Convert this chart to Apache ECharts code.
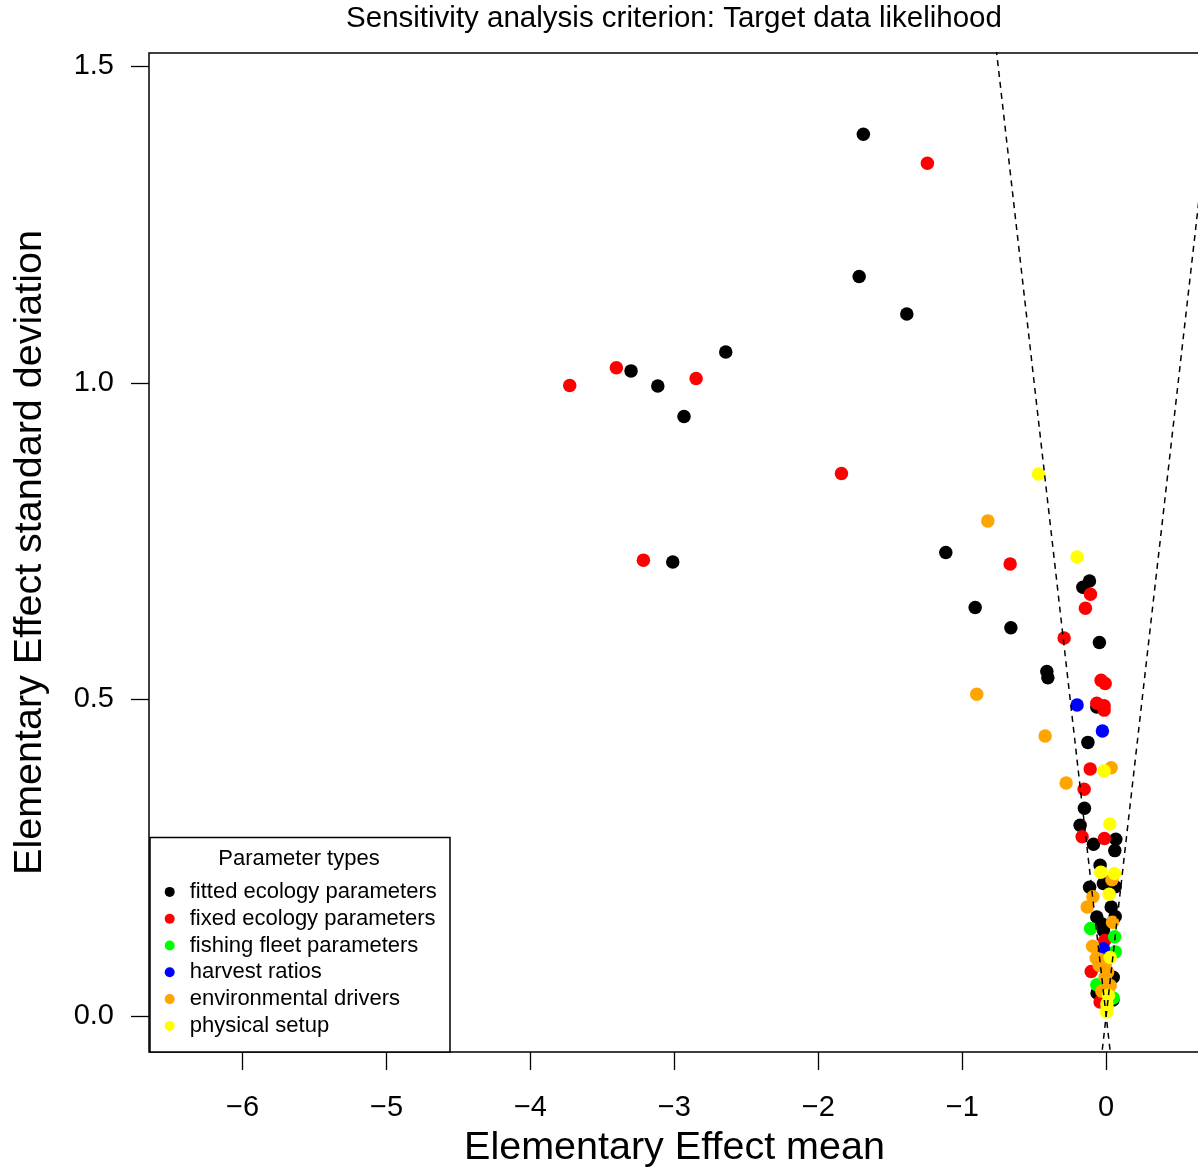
<!DOCTYPE html>
<html>
<head>
<meta charset="utf-8">
<script src="https://cdn.jsdelivr.net/npm/echarts@6/dist/echarts.min.js"></script>
<style>
  html, body { margin: 0; padding: 0; background: #fff; }
  #chart { width: 1198px; height: 1170px; }
</style>
</head>
<body>
<div id="chart"></div>
<script>
// Parameter groups (legend order) and their colours
const groupNames = ['fitted ecology parameters', 'fixed ecology parameters', 'fishing fleet parameters',
  'harvest ratios', 'environmental drivers', 'physical setup'];
const groupColors = ['#000000', '#ff0000', '#00ff00', '#0000ff', '#ffa500', '#ffff00'];

// [EE mean, EE standard deviation]
const fittedEcology = [
  [-1.687, 1.393], [-1.716, 1.168], [-1.385, 1.109], [-2.643, 1.049], [-3.301, 1.019],
  [-3.115, 0.995], [-2.933, 0.947], [-3.011, 0.717], [-1.114, 0.732], [-0.910, 0.645],
  [-0.662, 0.613], [-0.412, 0.544], [-0.405, 0.534], [-0.162, 0.677], [-0.116, 0.687],
  [-0.047, 0.590], [-0.065, 0.488], [-0.127, 0.432], [-0.151, 0.328], [-0.181, 0.301],
  [-0.088, 0.271], [0.067, 0.279], [0.060, 0.261], [-0.042, 0.238], [-0.019, 0.209],
  [0.063, 0.204], [-0.115, 0.203], [0.035, 0.172], [-0.065, 0.156], [0.063, 0.157],
  [-0.028, 0.145], [-0.019, 0.135], [-0.014, 0.092], [0.049, 0.061], [-0.063, 0.036],
  [0.047, 0.025]
];
const fixedEcology = [
  [-1.242, 1.347], [-3.727, 0.996], [-3.403, 1.024], [-2.849, 1.007], [-1.839, 0.857],
  [-3.215, 0.720], [-0.667, 0.714], [-0.109, 0.666], [-0.144, 0.644], [-0.292, 0.597],
  [-0.035, 0.530], [-0.007, 0.525], [-0.065, 0.494], [-0.014, 0.490], [-0.014, 0.483],
  [-0.111, 0.390], [-0.153, 0.358], [-0.167, 0.283], [-0.012, 0.280], [-0.010, 0.119],
  [-0.104, 0.070], [-0.042, 0.022]
];
const fishingFleet = [
  [-0.108, 0.138], [0.059, 0.125], [0.063, 0.101], [-0.065, 0.049], [0.049, 0.028]
];
const harvestRatios = [
  [-0.202, 0.491], [-0.026, 0.450], [-0.019, 0.106]
];
const envDrivers = [
  [-0.822, 0.782], [-0.899, 0.508], [-0.424, 0.442], [-0.278, 0.368], [0.035, 0.392],
  [0.040, 0.215], [-0.092, 0.188], [-0.132, 0.172], [0.044, 0.148], [-0.094, 0.110],
  [-0.042, 0.089], [-0.007, 0.080], [0.010, 0.069], [-0.007, 0.061], [0.028, 0.048],
  [-0.030, 0.039], [-0.049, 0.080], [-0.069, 0.091]
];
const physicalSetup = [
  [-0.470, 0.856], [-0.202, 0.725], [-0.014, 0.387], [0.026, 0.303], [-0.037, 0.227],
  [0.058, 0.225], [0.021, 0.192], [0.028, 0.092], [0.016, 0.032], [0.005, 0.019],
  [0.003, 0.006], [0.007, 0.012]
];
const groupData = [fittedEcology, fixedEcology, fishingFleet, harvestRatios, envDrivers, physicalSetup];

// axis ticks and the two reference lines sd = slope * mean
const xTicks = [-6, -5, -4, -3, -2, -1, 0];
const yTicks = [0, 0.5, 1, 1.5];
const refSlopes = [-2, 2];

const xMin = -6.65, xMax = 0.652;
const yMin = -0.0572, yMax = 1.5213;
const font = '"Liberation Sans", Arial, Helvetica, sans-serif';

const chart = echarts.init(document.getElementById('chart'));

const pointSeries = groupNames.map((name, i) => ({
  name: name,
  type: 'scatter',
  symbol: 'circle',
  symbolSize: 13.5,
  data: groupData[i],
  itemStyle: { color: groupColors[i], opacity: 1 },
  z: 2 + i,
  silent: true
}));

const lineSeries = refSlopes.map(s => ({
  type: 'line',
  data: [[(yMin - 0.1) / s, yMin - 0.1], [(yMax + 0.2) / s, yMax + 0.2]],
  symbol: 'none',
  clip: true,
  silent: true,
  lineStyle: { color: '#000', width: 1.5, type: [6, 5] },
  z: 10
}));

const option = {
  animation: false,
  backgroundColor: '#fff',
  textStyle: { fontFamily: font },
  title: {
    text: 'Sensitivity analysis criterion: Target data likelihood',
    left: 674,
    top: 4,
    padding: 0,
    textAlign: 'center',
    textStyle: { fontSize: 29.5, fontWeight: 'normal', color: '#000', fontFamily: font }
  },
  grid: {
    left: 149,
    top: 53,
    width: 1051,
    height: 999,
    outerBoundsMode: 'none',
    containLabel: false,
    show: true,
    borderColor: '#000',
    borderWidth: 1.5,
    backgroundColor: 'transparent'
  },
  xAxis: {
    type: 'value',
    min: xMin,
    max: xMax,
    name: 'Elementary Effect mean',
    nameLocation: 'middle',
    nameGap: 76,
    nameTextStyle: { fontSize: 39.5, color: '#000', fontFamily: font },
    axisLine: { show: false, onZero: false },
    splitLine: { show: false },
    axisTick: { show: true, length: 18, customValues: xTicks, lineStyle: { color: '#000', width: 1.3 } },
    axisLabel: {
      customValues: xTicks,
      margin: 41,
      fontSize: 29,
      color: '#000',
      fontFamily: font,
      formatter: v => (v < 0 ? '\u2212' + Math.abs(v) : String(v))
    }
  },
  yAxis: {
    type: 'value',
    min: yMin,
    max: yMax,
    name: 'Elementary Effect standard deviation',
    nameLocation: 'middle',
    nameRotate: 90,
    nameGap: 99,
    nameTextStyle: { fontSize: 39.5, color: '#000', fontFamily: font },
    axisLine: { show: false, onZero: false },
    splitLine: { show: false },
    axisTick: { show: true, length: 18, customValues: yTicks, lineStyle: { color: '#000', width: 1.3 } },
    axisLabel: {
      customValues: yTicks,
      margin: 35,
      fontSize: 29,
      color: '#000',
      fontFamily: font,
      formatter: v => v.toFixed(1)
    }
  },
  legend: {
    data: groupNames,
    orient: 'vertical',
    left: 164.7,
    top: 878.5,
    padding: 0,
    itemGap: 0,
    itemWidth: 10,
    itemHeight: 10,
    icon: 'circle',
    selectedMode: false,
    z: 20,
    textStyle: { fontSize: 22, color: '#000', fontFamily: font, lineHeight: 26.8, padding: [0, 0, 0, 10] }
  },
  graphic: [
    {
      type: 'rect',
      z: 15,
      shape: { x: 150, y: 837.5, width: 300, height: 214.5 },
      style: { fill: '#fff', stroke: '#000', lineWidth: 1.5 }
    },
    {
      type: 'text',
      z: 16,
      x: 299,
      y: 858.5,
      style: {
        text: 'Parameter types',
        font: '22px ' + font,
        fill: '#000',
        textAlign: 'center',
        textVerticalAlign: 'middle'
      }
    }
  ],
  series: pointSeries.concat(lineSeries)
};

chart.setOption(option);
</script>
</body>
</html>
